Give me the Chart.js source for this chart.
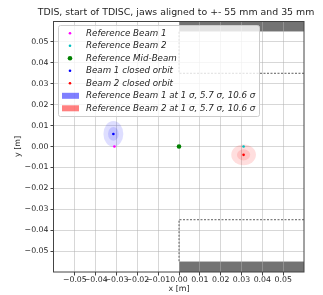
<!DOCTYPE html>
<html>
<head>
<meta charset="utf-8">
<script src="https://cdn.jsdelivr.net/npm/chart.js@4"></script>
<style>
    html, body { margin: 0; padding: 0; background: #fff; }
</style>
</head>
<body>
<canvas id="tdisChart" width="323" height="295"></canvas>
<script>
// beam positions [m]
const pointLabels = ['Reference Beam 1', 'Reference Beam 2', 'Reference Mid-Beam', 'Beam 1 closed orbit', 'Beam 2 closed orbit'];
const pointX = [-0.031, 0.031, 0.0, -0.0315, 0.031];
const pointY = [0.0, 0.0, 0.0, 0.006, -0.004];

// beam envelopes, centred on the closed orbit
const beamLabels = ['Reference Beam 1 at 1 σ, 5.7 σ, 10.6 σ', 'Reference Beam 2 at 1 σ, 5.7 σ, 10.6 σ'];
const beamCenterX = [-0.0315, 0.031];
const beamCenterY = [0.006, -0.004];
const beamSigmaX = [0.00045, 0.00056];
const beamSigmaY = [0.00058, 0.00047];
const sigmaLevels = [1, 5.7, 10.6];

// jaws [m]
const jawX = [0.0, 0.06];
const jawY = [0.055, -0.055];
const alignY = [0.035, -0.035];

const axisRange = [-0.06, 0.06];
const tickValues = [-0.05, -0.04, -0.03, -0.02, -0.01, 0.0, 0.01, 0.02, 0.03, 0.04, 0.05];

const titleText = 'TDIS, start of TDISC, jaws aligned to +- 55 mm and 35 mm';

// styles
const pointColors = ['#ff00ff', '#00bfbf', '#008000', '#0000ff', '#ff0000'];
const pointSizes = [1.3, 1.3, 2.3, 1.3, 1.3];
const beamFill = ['rgba(0, 0, 255, 0.13)', 'rgba(255, 0, 0, 0.13)'];
const beamPatch = ['rgba(0, 0, 255, 0.5)', 'rgba(255, 0, 0, 0.5)'];
const FONT = '"DejaVu Sans", sans-serif';
const TEXT = '#262626';

function fmtTick(v) {
    return (v < 0 ? '\u2212' : '') + Math.abs(v).toFixed(2);
}

const jawPlugin = {
    id: 'jaws',
    beforeDraw(chart) {
        const {ctx, scales: {x, y}} = chart;
        ctx.save();
        ctx.fillStyle = '#737373';
        jawY.forEach(jy => {
            const edge = jy > 0 ? axisRange[1] : axisRange[0];
            const x0 = x.getPixelForValue(jawX[0]);
            const x1 = x.getPixelForValue(jawX[1]);
            const y0 = y.getPixelForValue(jy);
            const y1 = y.getPixelForValue(edge);
            ctx.fillRect(x0, Math.min(y0, y1), x1 - x0, Math.abs(y1 - y0));
        });
        ctx.restore();
    },
    beforeDatasetsDraw(chart) {
        const {ctx, scales: {x, y}} = chart;
        ctx.save();
        // aligned jaw outline (dashed)
        ctx.strokeStyle = '#333';
        ctx.lineWidth = 0.8;
        ctx.setLineDash([2, 1.5]);
        alignY.forEach((ay, i) => {
            const x0 = x.getPixelForValue(jawX[0]);
            const x1 = x.getPixelForValue(jawX[1]);
            const ya = y.getPixelForValue(ay);
            const yj = y.getPixelForValue(jawY[i]);
            ctx.beginPath();
            ctx.moveTo(x1, ya);
            ctx.lineTo(x0, ya);
            ctx.lineTo(x0, yj);
            ctx.stroke();
        });
        ctx.setLineDash([]);

        // beam envelopes
        beamCenterX.forEach((cx, b) => {
            const px = x.getPixelForValue(cx);
            const py = y.getPixelForValue(beamCenterY[b]);
            ctx.fillStyle = beamFill[b];
            sigmaLevels.forEach(n => {
                const rx = Math.abs(x.getPixelForValue(cx + n * beamSigmaX[b]) - px);
                const ry = Math.abs(y.getPixelForValue(beamCenterY[b] + n * beamSigmaY[b]) - py);
                ctx.beginPath();
                ctx.ellipse(px, py, rx, ry, 0, 0, Math.PI * 2);
                ctx.fill();
            });
        });
        ctx.restore();
    },
    afterDatasetsDraw(chart) {
        const {ctx, chartArea: a} = chart;
        ctx.save();
        ctx.strokeStyle = '#444';
        ctx.lineWidth = 1;
        ctx.strokeRect(Math.round(a.left) - 0.5, Math.round(a.top) + 0.5,
            Math.round(a.right - a.left) + 0.5, Math.round(a.bottom - a.top) - 0.5);
        ctx.restore();
    },
    afterDraw(chart) {
        const {ctx, chartArea: a} = chart;
        ctx.save();

        // title
        ctx.fillStyle = TEXT;
        ctx.font = '9.4px ' + FONT;
        ctx.textAlign = 'center';
        ctx.textBaseline = 'middle';
        ctx.fillText(titleText, (a.left + a.right) / 2 - 3, 13);

        // legend box
        const bx = a.left + 4.5, by = a.top + 4.5, bw = 201, bh = 91;
        ctx.beginPath();
        ctx.roundRect(bx, by, bw, bh, 2);
        ctx.fillStyle = 'rgba(255, 255, 255, 0.8)';
        ctx.fill();
        ctx.strokeStyle = '#cccccc';
        ctx.lineWidth = 1;
        ctx.stroke();

        ctx.font = 'italic 8.7px ' + FONT;
        ctx.textAlign = 'left';
        let rowY = a.top + 12.3;
        chart.data.datasets.forEach(ds => {
            ctx.fillStyle = ds.backgroundColor;
            ctx.beginPath();
            ctx.arc(a.left + 16, rowY, ds.pointRadius, 0, Math.PI * 2);
            ctx.fill();
            ctx.fillStyle = TEXT;
            ctx.fillText(ds.label, a.left + 32, rowY);
            rowY += 12.5;
        });
        beamLabels.forEach((label, b) => {
            ctx.fillStyle = beamPatch[b];
            ctx.fillRect(a.left + 8, rowY - 3, 17, 6);
            ctx.fillStyle = TEXT;
            ctx.fillText(label, a.left + 32, rowY);
            rowY += 12.5;
        });
        ctx.restore();
    }
};

const datasets = pointLabels.map((label, i) => ({
    label: label,
    data: [{x: pointX[i], y: pointY[i]}],
    backgroundColor: pointColors[i],
    borderWidth: 0,
    pointRadius: pointSizes[i]
}));

const gridStyle = {
    color: 'rgba(176, 176, 176, 0.5)',
    tickColor: '#444',
    tickLength: 3.5,
    lineWidth: 1
};

new Chart(document.getElementById('tdisChart'), {
    type: 'scatter',
    data: { datasets: datasets },
    options: {
        responsive: false,
        animation: false,
        events: [],
        layout: { padding: { top: 21, right: 19, left: 0, bottom: 0 } },
        plugins: {
            legend: { display: false },
            tooltip: { enabled: false }
        },
        scales: {
            x: {
                type: 'linear',
                min: axisRange[0],
                max: axisRange[1],
                afterBuildTicks: scale => { scale.ticks = tickValues.map(v => ({ value: v })); },
                afterFit: scale => { scale.height = 23; },
                grid: gridStyle,
                border: { display: false },
                ticks: {
                    autoSkip: false, maxRotation: 0, minRotation: 0, padding: 0,
                    color: TEXT, font: { family: FONT, size: 7.8 },
                    callback: v => fmtTick(v)
                },
                title: {
                    display: true, text: 'x [m]', color: TEXT,
                    font: { family: FONT, size: 7.9 }, padding: { top: 0, bottom: 1.5 }
                }
            },
            y: {
                type: 'linear',
                min: axisRange[0],
                max: axisRange[1],
                afterBuildTicks: scale => { scale.ticks = tickValues.map(v => ({ value: v })); },
                afterFit: scale => { scale.width = 54; },
                grid: gridStyle,
                border: { display: false },
                ticks: {
                    autoSkip: false, padding: 2,
                    color: TEXT, font: { family: FONT, size: 7.8 },
                    callback: v => fmtTick(v)
                },
                title: {
                    display: true, text: 'y [m]', color: TEXT,
                    font: { family: FONT, size: 7.9 }, padding: { top: 13, bottom: 0 }
                }
            }
        }
    },
    plugins: [jawPlugin]
});
</script>
</body>
</html>
